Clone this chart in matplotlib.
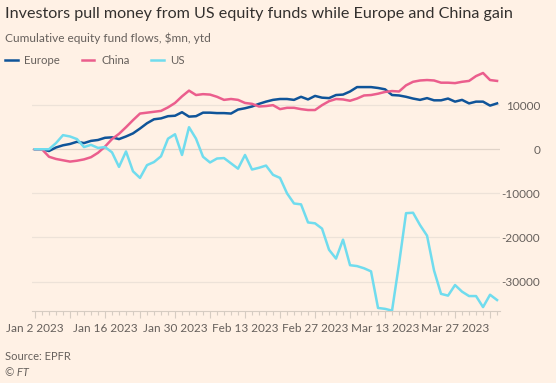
import matplotlib
matplotlib.use("Agg")
import matplotlib.pyplot as plt
from matplotlib.ticker import FixedLocator, MultipleLocator
import pandas as pd

# business days, Jan 2 2023 onwards
dates = pd.bdate_range("2023-01-02", periods=67)

europe = [0, 0, -400, 400, 900, 1200, 1700, 1400, 1900, 2100,
          2600, 2700, 2300, 2900, 3600, 4700, 5900, 6800, 7000, 7500,
          7600, 8400, 7400, 7500, 8300, 8300, 8200, 8200, 8100, 9000,
          9300, 9700, 10300, 10800, 11200, 11400, 11400, 11200, 11900, 11300,
          12100, 11700, 11600, 12300, 12400, 13100, 14100, 14100, 14100, 13900,
          13600, 12300, 12200, 11900, 11500, 11200, 11600, 11100, 11100, 11500,
          10800, 11200, 10400, 10800, 10800, 9900, 10400]
china = [0, 0, -1700, -2200, -2500, -2800, -2600, -2300, -1800, -800,
         600, 2300, 3500, 5000, 6600, 8100, 8300, 8500, 8700, 9500,
         10500, 12000, 13300, 12300, 12500, 12400, 11900, 11200, 11400, 11200,
         10500, 10300, 9700, 9800, 10000, 9100, 9400, 9400, 9100, 8900,
         8900, 10000, 10900, 11400, 11300, 11000, 11500, 12200, 12300, 12600,
         13000, 13200, 13100, 14500, 15300, 15600, 15700, 15600, 15100, 15100,
         15000, 15300, 15500, 16600, 17300, 15700, 15500]
us = [0, 0, 0, 1400, 3200, 2900, 2300, 500, 1000, 300,
      500, -700, -4000, -500, -5000, -6500, -3600, -2900, -1600, 2400,
      3400, -1300, 5000, 2400, -1700, -3000, -2100, -2000, -3200, -4400,
      -1300, -4600, -4200, -3700, -5800, -6500, -10000, -12300, -12500, -16600,
      -16800, -18000, -22800, -24800, -20500, -26300, -26500, -27000, -27700, -36000,
      -36200, -36600, -26000, -14500, -14400, -17200, -19600, -27500, -32800, -33200,
      -30800, -32300, -33300, -33300, -35800, -33000, -34200]

yticks = [-30000, -20000, -10000, 0, 10000]

bg = "#FFF1E5"
txt = "#66605C"
plt.rcParams["font.family"] = ["Lato", "DejaVu Sans"]

fig = plt.figure(figsize=(5.56, 3.83), dpi=100, facecolor=bg)
ax = fig.add_axes([0.0579, 0.1867, 0.899 - 0.0579, 0.6308])
ax.set_facecolor(bg)

x = list(range(len(dates)))
ax.plot(x, europe, color="#0F5499", lw=1.8, label="Europe", zorder=3)
ax.plot(x, china, color="#EB5E8D", lw=1.8, label="China", zorder=3)
ax.plot(x, us, color="#70DCEE", lw=1.8, label="US", zorder=3)

ax.set_xlim(-0.4, len(dates) - 1 + 0.4)
ax.set_ylim(-36800, 18000)

# y axis on the right, gridlines
ax.yaxis.tick_right()
ax.set_yticks(yticks)
ax.set_yticklabels([str(v) for v in yticks])
ax.tick_params(axis="y", length=0, pad=29, labelsize=8.5, labelcolor=txt)
for lab in ax.get_yticklabels():
    lab.set_horizontalalignment("right")
for v in yticks:
    ax.axhline(v, color="#E0D3C8" if v == 0 else "#EDE2D8", lw=0.9, zorder=1)

# x axis: a tick for every business day, longer ones on Mondays
major = [i for i in x if dates[i].weekday() == 0]
ax.xaxis.set_major_locator(FixedLocator(major))
ax.xaxis.set_minor_locator(MultipleLocator(1))
ax.set_xticklabels([dates[i].strftime("%b %-d %Y") if k % 2 == 0 else ""
                    for k, i in enumerate(major)])
ax.tick_params(axis="x", which="major", length=5, width=0.8, color="#D6CCC2",
               pad=3, labelsize=8.5, labelcolor=txt)
ax.tick_params(axis="x", which="minor", length=3, width=0.8, color="#D6CCC2")

for s in ["top", "right", "left"]:
    ax.spines[s].set_visible(False)
ax.spines["bottom"].set_color("#D6CCC2")
ax.spines["bottom"].set_linewidth(0.8)

fig.text(5 / 556, 1 - 14 / 383, "Investors pull money from US equity funds while Europe and China gain",
         fontsize=11.6, color="#33302E", va="center", ha="left")
fig.text(5 / 556, 1 - 38 / 383, "Cumulative equity fund flows, $mn, ytd",
         fontsize=8.6, color=txt, va="center", ha="left")
leg = fig.legend(loc="center left", bbox_to_anchor=(5 / 556, 1 - 60 / 383), ncol=3,
                 frameon=False, fontsize=8.2, handlelength=1.1, handletextpad=0.6,
                 columnspacing=1.9, borderpad=0, borderaxespad=0)
for t in leg.get_texts():
    t.set_color(txt)

fig.text(5 / 556, 1 - 357 / 383, "Source: EPFR", fontsize=8, color=txt, va="center")
fig.text(5 / 556, 1 - 372 / 383, "© FT", fontsize=8, color=txt, va="center", style="italic")

fig.savefig("out.png", dpi=100, facecolor=bg)
